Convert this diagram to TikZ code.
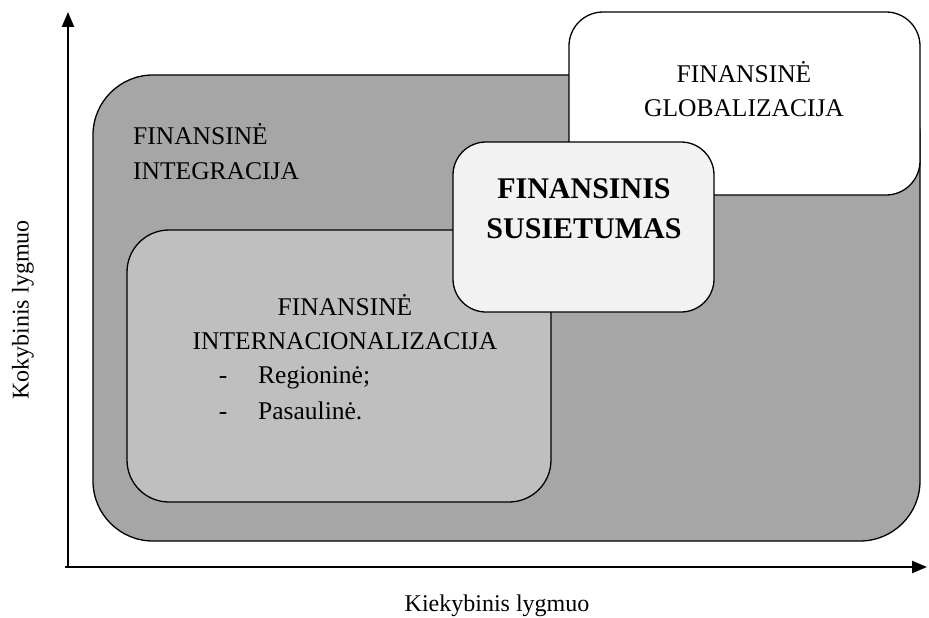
\documentclass[tikz,border=0pt]{standalone}
\usepackage{fontspec}
\setmainfont{Liberation Serif}
\usetikzlibrary{arrows.meta}
\definecolor{outergray}{HTML}{A6A6A6}
\definecolor{innergray}{HTML}{BFBFBF}
\definecolor{coregray}{HTML}{F2F2F2}
\begin{document}
\begin{tikzpicture}[x=1pt,y=-1pt,
  area/.style={draw=black,line width=1.3pt},
  axis/.style={line width=2.4pt,-{Triangle[length=15pt,width=12pt]}},
  lbl/.style={inner sep=0pt,font=\fontsize{25.5}{30}\selectfont},
  core/.style={inner sep=0pt,font=\fontsize{30}{36}\selectfont\bfseries},
  axlbl/.style={inner sep=0pt,font=\fontsize{24}{28}\selectfont}]
\useasboundingbox (0,0) rectangle (929,618);

% axes
\coordinate (origin) at (68,568);
\coordinate (ytip) at (68,12);
\coordinate (xstart) at (65,567);
\coordinate (xtip) at (927,567);
\draw[axis] (origin) -- (ytip);
\draw[axis] (xstart) -- (xtip);

% nested areas
\draw[area,fill=outergray,rounded corners=60pt] (93,75) rectangle (920,541);
\draw[area,fill=innergray,rounded corners=42pt] (127,230) rectangle (551,502);
\draw[area,fill=white,rounded corners=34pt] (569,12) rectangle (920,195);
\draw[area,fill=coregray,rounded corners=33pt] (453,142) rectangle (714,312);

% integration label
\node[lbl,anchor=base west] (int1) at (133,144) {FINANSINĖ};
\node[lbl,anchor=base west] (int2) at (133,179) {INTEGRACIJA};

% globalization label
\node[lbl,anchor=base] (glob1) at (744,82) {FINANSINĖ};
\node[lbl,anchor=base] (glob2) at (744,116) {GLOBALIZACIJA};

% core label
\node[core,anchor=base] (core1) at (584,198) {FINANSINIS};
\node[core,anchor=base] (core2) at (584,238) {SUSIETUMAS};

% internationalization label with list
\node[lbl,anchor=base] (intl1) at (345,315) {FINANSINĖ};
\node[lbl,anchor=base] (intl2) at (345,349) {INTERNACIONALIZACIJA};
\node[lbl,anchor=base] (dash1) at (223,383) {-};
\node[lbl,anchor=base west] (item1) at (258,383) {Regioninė;};
\node[lbl,anchor=base] (dash2) at (223,419) {-};
\node[lbl,anchor=base west] (item2) at (258,419) {Pasaulinė.};

% axis titles
\node[axlbl,anchor=base] (xlbl) at (497,611) {Kiekybinis lygmuo};
\node[axlbl,rotate=90] (ylbl) at (23,310) {Kokybinis lygmuo};
\end{tikzpicture}
\end{document}
